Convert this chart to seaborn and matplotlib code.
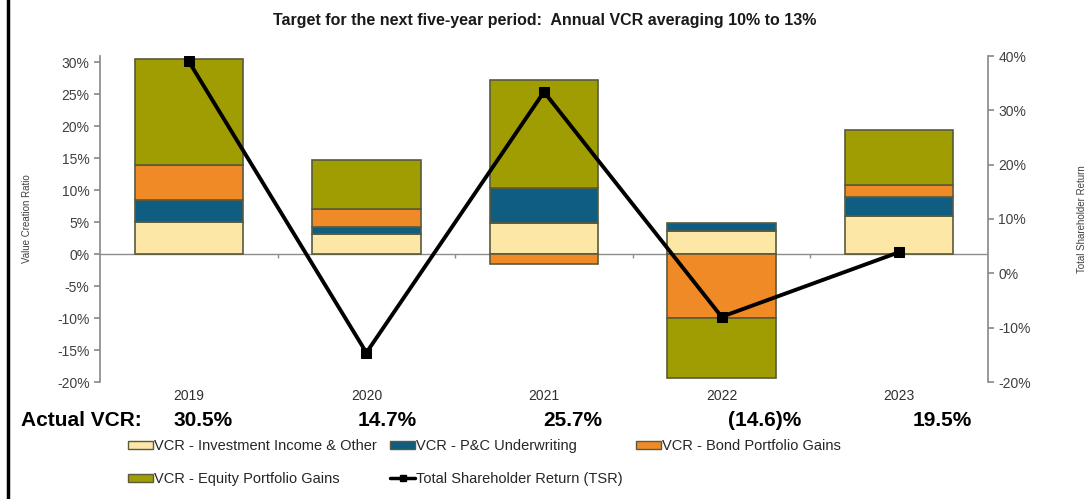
import numpy as np
import matplotlib
matplotlib.use('Agg')
import matplotlib.pyplot as plt
import seaborn as sns
from matplotlib.lines import Line2D
from matplotlib.patches import Patch
from matplotlib.ticker import PercentFormatter, MultipleLocator

# values (percent)
years = ['2019', '2020', '2021', '2022', '2023']
inv_income = [5.0, 3.1, 4.9, 3.6, 6.0]
pc_underwriting = [3.5, 1.1, 5.4, 1.2, 2.9]
bond_gains = [5.5, 2.8, -1.5, -10.0, 1.9]
equity_gains = [16.5, 7.7, 16.9, -9.4, 8.7]
tsr = [39.0, -14.6, 33.4, -8.0, 3.9]
actual_vcr = ['30.5%', '14.7%', '25.7%', '(14.6)%', '19.5%']

series_names = ['VCR - Investment Income & Other', 'VCR - P&C Underwriting',
                'VCR - Bond Portfolio Gains', 'VCR - Equity Portfolio Gains']
colors = ['#FDE7A6', '#0F5D80', '#F08A27', '#A09D02']
edge = '#5a5a3c'

sns.set_theme(style='white')
plt.rcParams['font.family'] = ['Liberation Sans', 'DejaVu Sans']
plt.rcParams['axes.unicode_minus'] = False

fig = plt.figure(figsize=(10.92, 4.99), dpi=100)
fig.subplots_adjust(left=100/1092, right=988/1092, bottom=1-382/499, top=1-56/499)
ax = fig.add_subplot(111)

# stacked bars, positives stack up from 0, negatives stack down from 0
pos_base = np.zeros(len(years))
neg_base = np.zeros(len(years))
for vals, col in zip([inv_income, pc_underwriting, bond_gains, equity_gains], colors):
    vals = np.array(vals)
    bottoms = np.where(vals >= 0, pos_base, neg_base)
    sns.barplot(x=years, y=vals, bottom=bottoms, color=col, saturation=1,
                width=0.61, edgecolor=edge, linewidth=1.2, ax=ax, zorder=2)
    pos_base = pos_base + np.clip(vals, 0, None)
    neg_base = neg_base + np.clip(vals, None, 0)

ax.set_xlim(-0.5, len(years) - 0.5)
ax.set_ylim(-20, 31)
ax.yaxis.set_major_locator(MultipleLocator(5))
ax.yaxis.set_major_formatter(PercentFormatter(decimals=0))
ax.axhline(0, color='#8c8c8c', lw=1, zorder=1)
ax.vlines(np.arange(len(years) - 1) + 0.5, -0.6, 0, color='#8c8c8c', lw=1, zorder=1)

for s in ['top', 'right', 'bottom']:
    ax.spines[s].set_visible(False)
ax.spines['left'].set_color('#8c8c8c')
ax.tick_params(axis='y', direction='out', length=4, color='#8c8c8c',
               labelsize=10, labelcolor='#404040', left=True)
ax.tick_params(axis='x', length=0, labelsize=10, labelcolor='#303030', pad=5)
ax.set_xlabel('')
ax.set_ylabel('Value Creation Ratio', fontsize=7, color='#404040')
ax.yaxis.set_label_coords(-0.077, 0.5)

# TSR line on secondary axis
ax2 = ax.twinx()
sns.lineplot(x=np.arange(len(years)), y=tsr, ax=ax2, color='black', lw=2.8,
             marker='s', markersize=7, markeredgecolor='black')
ax2.set_ylim(-20, 40)
ax2.yaxis.set_major_locator(MultipleLocator(10))
ax2.yaxis.set_major_formatter(PercentFormatter(decimals=0))
for s in ['top', 'left', 'bottom']:
    ax2.spines[s].set_visible(False)
ax2.spines['right'].set_color('#8c8c8c')
ax2.tick_params(axis='y', direction='out', length=4, color='#8c8c8c',
                labelsize=10, labelcolor='#404040', right=True)
ax2.set_ylabel('Total Shareholder Return', fontsize=7, color='#404040')
ax2.yaxis.set_label_coords(1.100, 0.5)
ax2.set_xlim(-0.5, len(years) - 0.5)

fig.text(0.499, 1 - 20/499, 'Target for the next five-year period:  Annual VCR averaging 10% to 13%',
         ha='center', va='center', fontsize=11.5, fontweight='bold', color='#1a1a1a')

# actual VCR row
fig.text(21/1092, 1 - 420/499, 'Actual VCR:', ha='left', va='center',
         fontsize=15, fontweight='bold', color='black')
for i, lab in enumerate(actual_vcr):
    fig.text((173 + i*185)/1092, 1 - 420/499, lab, ha='left', va='center',
             fontsize=15, fontweight='bold', color='black')

# legend
patches = [Patch(facecolor=c, edgecolor=edge, lw=1) for c in colors]
tsr_handle = Line2D([], [], color='black', lw=2.5, marker='s', markersize=5)
handles = [patches[0], patches[3], patches[1], tsr_handle, patches[2]]
labels = [series_names[0], series_names[3], series_names[1],
          'Total Shareholder Return (TSR)', series_names[2]]
fig.legend(handles, labels, loc='upper left', bbox_to_anchor=(128/1092, 1 - 439/499),
           ncol=3, frameon=False, fontsize=10.5, handlelength=1.7, handleheight=0.45,
           handletextpad=0.1, columnspacing=0.9, labelspacing=1.3,
           borderaxespad=0, borderpad=0)

fig.add_artist(Line2D([8/1092, 8/1092], [0, 1], color='black', lw=2.5,
                      transform=fig.transFigure))

fig.savefig('out.png', dpi=100)
